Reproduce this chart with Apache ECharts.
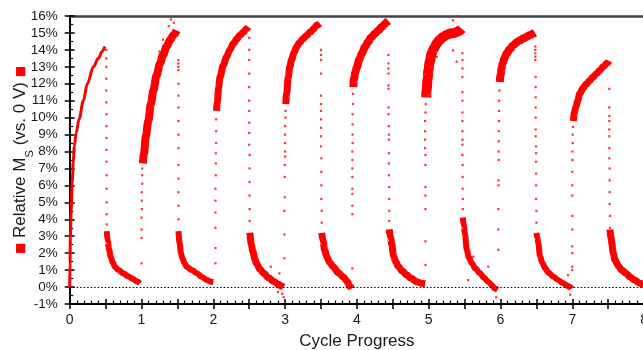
<!DOCTYPE html>
<html><head><meta charset="utf-8">
<script src="https://cdn.jsdelivr.net/npm/echarts@6/dist/echarts.min.js"></script>
<style>html,body{margin:0;padding:0;background:#fff}#c{width:643px;height:350px}</style>
</head><body><div id="c"></div>
<script>
// ---- data (x = cycle progress, y = relative Ms in %) ----
const xTicks = [0,1,2,3,4,5,6,7,8];
const yTicks = [-1,0,1,2,3,4,5,6,7,8,9,10,11,12,13,14,15,16];

// dense bands (rising / decaying parts of each cycle)
const rise0 = [[0,0],[0.004,1.5],[0.01,3],[0.02,4.5],[0.035,6.2],[0.05,7.4],[0.065,8.3],[0.09,9.1],[0.13,9.9],[0.19,11],[0.245,12],[0.33,13],[0.40,13.5],[0.45,13.9],[0.49,14.2]];
const decay0 = [[0.515,3.3],[0.53,2.7],[0.55,2.2],[0.57,1.8],[0.6,1.45],[0.63,1.2],[0.68,1.0],[0.75,0.8],[0.82,0.62],[0.88,0.48],[0.94,0.33],[0.98,0.22]];
const rise1 = [[1.02,7.3],[1.036,7.9],[1.06,8.9],[1.095,9.8],[1.13,10.8],[1.165,11.6],[1.21,12.5],[1.258,13.2],[1.30,13.7],[1.35,14.2],[1.40,14.6],[1.443,14.86],[1.49,15.15]];
const decay1 = [[1.515,3.3],[1.53,2.6],[1.55,2.0],[1.57,1.7],[1.60,1.4],[1.63,1.2],[1.70,1.0],[1.77,0.82],[1.84,0.6],[1.91,0.42],[1.96,0.32],[2.0,0.3]];
const rise2 = [[2.045,10.4],[2.056,10.9],[2.075,11.8],[2.093,12.4],[2.14,13.1],[2.187,13.6],[2.23,14.0],[2.28,14.37],[2.33,14.65],[2.37,14.86],[2.42,15.05],[2.465,15.25],[2.49,15.35]];
const decay2 = [[2.51,3.2],[2.53,2.5],[2.55,2.1],[2.58,1.65],[2.6,1.4],[2.65,1.05],[2.70,0.82],[2.77,0.55],[2.84,0.33],[2.9,0.18],[2.95,0.05],[2.98,0.0]];
const rise3 = [[3.01,10.8],[3.02,11.4],[3.045,12.4],[3.065,13.0],[3.09,13.4],[3.125,13.85],[3.16,14.17],[3.2,14.42],[3.25,14.66],[3.30,14.85],[3.35,15.05],[3.40,15.25],[3.44,15.45],[3.485,15.55]];
const decay3 = [[3.51,3.2],[3.53,2.7],[3.55,2.2],[3.58,1.8],[3.62,1.45],[3.67,1.2],[3.74,0.85],[3.81,0.6],[3.87,0.3],[3.90,0.05],[3.925,-0.1]];
const rise4 = [[3.95,11.8],[3.96,12.3],[3.98,12.7],[4.0,13.0],[4.035,13.45],[4.07,13.8],[4.115,14.2],[4.16,14.5],[4.2,14.75],[4.25,14.95],[4.3,15.15],[4.345,15.35],[4.39,15.52],[4.415,15.64],[4.44,15.7]];
const decay4 = [[4.45,3.4],[4.47,2.9],[4.485,2.55],[4.51,1.85],[4.54,1.5],[4.58,1.2],[4.63,0.95],[4.69,0.72],[4.76,0.5],[4.83,0.32],[4.9,0.22],[4.95,0.2]];
const rise5 = [[4.965,11.2],[4.97,11.6],[4.985,12.3],[4.995,12.8],[5.015,13.3],[5.04,13.78],[5.075,14.1],[5.11,14.37],[5.155,14.6],[5.2,14.76],[5.25,14.88],[5.3,14.96],[5.35,15.0],[5.39,15.05],[5.43,15.15],[5.46,15.25]];
const decay5 = [[5.475,4.1],[5.49,3.6],[5.505,3.15],[5.53,2.2],[5.56,1.75],[5.6,1.4],[5.65,1.1],[5.715,0.82],[5.77,0.55],[5.83,0.32],[5.88,0.1],[5.92,-0.08],[5.96,-0.15]];
const rise6 = [[5.99,12.1],[6.0,12.5],[6.015,12.9],[6.03,13.2],[6.055,13.5],[6.085,13.78],[6.13,14.05],[6.18,14.27],[6.225,14.45],[6.27,14.56],[6.32,14.68],[6.365,14.76],[6.41,14.88],[6.457,14.96],[6.48,15.0]];
const decay6 = [[6.5,3.2],[6.515,2.9],[6.525,2.6],[6.55,1.85],[6.58,1.45],[6.62,1.12],[6.67,0.85],[6.735,0.62],[6.8,0.42],[6.875,0.22],[6.93,0.08],[6.97,0.0],[6.99,-0.1]];
const rise7 = [[7.015,9.8],[7.03,10.3],[7.05,10.63],[7.075,11.0],[7.105,11.42],[7.15,11.75],[7.2,12.0],[7.245,12.2],[7.29,12.4],[7.34,12.6],[7.385,12.8],[7.43,13.0],[7.48,13.2],[7.51,13.35]];
const decay7 = [[7.525,3.4],[7.54,2.9],[7.55,2.58],[7.57,2.0],[7.595,1.6],[7.64,1.25],[7.69,1.0],[7.75,0.8],[7.80,0.61],[7.87,0.4],[7.94,0.22],[8.0,0.12]];

// sparse points (fast switching transitions and outliers)
const drop0 = [[0.51,14.0],[0.51,13.5],[0.51,13.0],[0.51,12.3],[0.51,11.6],[0.51,10.9],[0.512,10.2],[0.512,9.5],[0.512,8.8],[0.512,8.1],[0.512,7.4],[0.515,6.6],[0.515,5.8],[0.515,5.0],[0.515,4.3],[0.515,3.7]];
const jump1 = [[1.0,1.4],[1.0,2.9],[1.0,3.4],[1.0,4.1],[1.005,4.6],[1.005,5.1],[1.005,5.6],[1.01,6.1],[1.01,6.6],[1.01,7.0],[1.41,15.8],[1.38,15.4],[1.45,15.6],[1.30,14.6],[1.2,11.6],[1.25,13.9]];
const drop1 = [[1.513,13.4],[1.513,13.2],[1.513,13.0],[1.515,12.8],[1.515,12.0],[1.515,11.3],[1.515,10.6],[1.515,9.8],[1.515,9.0],[1.515,8.2],[1.515,7.2],[1.515,6.4],[1.515,5.6],[1.515,4.8],[1.515,4.0]];
const jump2 = [[2.03,1.4],[2.03,2.3],[2.03,3.5],[2.03,4.4],[2.03,5.1],[2.03,5.8],[2.035,6.6],[2.035,7.3],[2.035,7.9],[2.04,8.5],[2.04,9.2],[2.04,9.9]];
const drop2 = [[2.5,14.7],[2.5,14.0],[2.5,13.4],[2.5,12.6],[2.5,11.8],[2.5,11.0],[2.5,10.4],[2.5,9.7],[2.5,9.1],[2.5,8.4],[2.505,7.8],[2.505,7.0],[2.505,6.2],[2.505,5.4],[2.505,4.6],[2.505,3.9],[2.96,-0.4],[2.98,-0.6],[2.90,-0.3],[2.92,0.8],[2.80,1.2]];
const jump3 = [[2.99,1.7],[2.99,3.1],[2.99,4.5],[2.995,5.3],[2.995,6.5],[2.995,7.2],[3.0,7.7],[3.0,8.0],[3.0,8.5],[3.0,9.0],[3.0,9.5],[3.005,10.0],[3.005,10.4]];
const drop3 = [[3.5,14.0],[3.5,13.7],[3.5,13.4],[3.5,12.6],[3.5,11.3],[3.5,10.8],[3.5,10.4],[3.5,9.9],[3.5,9.4],[3.5,8.9],[3.5,8.3],[3.505,7.6],[3.505,6.8],[3.505,6.0],[3.505,5.2],[3.51,4.5],[3.51,3.8]];
const jump4 = [[3.937,1.1],[3.937,4.3],[3.937,4.8],[3.937,5.5],[3.937,5.8],[3.937,6.5],[3.937,7.0],[3.937,7.5],[3.937,8.0],[3.94,8.5],[3.94,9.0],[3.94,9.6],[3.94,10.2],[3.945,10.8],[3.945,11.4]];
const drop4 = [[4.44,13.7],[4.44,13.2],[4.44,12.9],[4.44,12.6],[4.44,11.9],[4.44,11.7],[4.44,10.6],[4.44,10.2],[4.445,9.5],[4.445,9.0],[4.445,8.7],[4.445,7.9],[4.445,7.3],[4.445,6.6],[4.45,5.9],[4.45,5.2],[4.45,4.5],[4.45,3.9]];
const jump5 = [[4.955,1.3],[4.955,2.7],[4.955,4.6],[4.955,5.4],[4.955,5.9],[4.955,7.2],[4.955,7.8],[4.95,8.2],[4.95,8.7],[4.95,9.2],[4.95,9.8],[4.955,10.3],[4.96,10.8],[5.34,15.74],[5.39,15.98],[5.03,12.2],[5.11,13.58],[5.34,13.97],[5.39,13.3]];
const drop5 = [[5.47,13.8],[5.47,13.4],[5.47,12.9],[5.47,12.4],[5.47,11.5],[5.47,11.0],[5.47,10.3],[5.47,9.8],[5.47,9.2],[5.47,8.7],[5.47,8.4],[5.47,7.8],[5.472,7.2],[5.472,6.5],[5.472,5.8],[5.475,5.2],[5.475,4.6],[5.62,1.79],[5.83,1.2],[5.55,0.41],[5.94,-0.6]];
const jump6 = [[5.97,2.2],[5.97,3.4],[5.97,4.6],[5.972,6.0],[5.972,6.3],[5.975,7.5],[5.975,8.0],[5.975,8.6],[5.975,9.2],[5.977,9.8],[5.98,10.4],[5.98,11.0],[5.985,11.6]];
const drop6 = [[6.485,14.2],[6.485,14.0],[6.485,13.8],[6.485,13.6],[6.485,13.4],[6.49,12.4],[6.49,11.8],[6.49,11.2],[6.49,10.6],[6.49,10.0],[6.49,9.3],[6.49,8.9],[6.495,8.3],[6.495,7.9],[6.495,7.4],[6.495,6.7],[6.495,6.0],[6.495,5.2],[6.5,4.5],[6.5,3.8],[6.97,-0.45],[6.94,0.7]];
const jump7 = [[7.0,1.0],[7.0,1.2],[7.0,2.0],[7.0,2.4],[7.0,3.4],[7.0,4.2],[7.0,5.4],[7.0,6.0],[7.0,6.8],[7.002,7.5],[7.002,8.0],[7.005,8.5],[7.005,9.0],[7.01,9.45]];
const drop7 = [[7.515,11.7],[7.515,10.6],[7.515,10.1],[7.515,9.8],[7.515,9.3],[7.515,8.9],[7.515,8.2],[7.515,7.6],[7.52,7.0],[7.52,6.3],[7.52,5.6],[7.52,4.9],[7.525,4.2],[7.525,3.5]];

// ---- styling ----
const RED = '#ff0000';
const FONT = 'Liberation Sans, Arial, sans-serif';
const bands = [
  [rise0,3],[decay0,6],[rise1,8],[decay1,6],[rise2,7],[decay2,7],[rise3,7],[decay3,7],
  [rise4,8],[decay4,7],[rise5,10],[decay5,6],[rise6,8],[decay6,6],[rise7,7],[decay7,7]
];
const sparse = [drop0,jump1,drop1,jump2,drop2,jump3,drop3,jump4,drop4,jump5,drop5,jump6,drop6,jump7,drop7];

const series = [];
series.push({
  type:'line', data:[], z:1, silent:true,
  markLine:{silent:true, symbol:['none','none'], label:{show:false},
    lineStyle:{color:'#000', type:[1.5,2], width:1.2}, data:[{yAxis:0}]}
});
bands.forEach(([d,w]) => series.push({
  type:'line', data:d, z:3, silent:true, showSymbol:false, smooth:0.35, smoothMonotone:'x',
  lineStyle:{color:RED, width:w, cap:'butt', join:'round'}
}));
sparse.forEach(d => series.push({
  type:'scatter', data:d, z:4, silent:true, symbol:'rect', symbolSize:2.2,
  itemStyle:{color:RED}
}));

const chart = echarts.init(document.getElementById('c'), null, {renderer:'canvas'});
chart.setOption({
  animation:false,
  backgroundColor:'#fff',
  grid:{left:69.7, right:-1.1, top:16, bottom:46, containLabel:false, outerBoundsMode:'none'},
  xAxis:[
    {type:'value', position:'bottom', min:0, max:8, interval:0.5,
     axisLine:{onZero:false, lineStyle:{color:'#000', width:2}},
     axisTick:{length:5, lineStyle:{color:'#000', width:1.5}},
     axisLabel:{margin:9, fontSize:14, color:'#1a1a1a', fontFamily:FONT, showMaxLabel:true, hideOverlap:false,
       formatter:v => xTicks.includes(v) ? String(v) : ''},
     splitLine:{show:false},
     name:'Cycle Progress', nameLocation:'middle', nameGap:29,
     nameTextStyle:{fontSize:17, color:'#1a1a1a', fontFamily:FONT}},
    {type:'value', position:'bottom', min:0, max:8, interval:0.5, offset:0,
     axisLine:{show:false, onZero:false}, axisLabel:{show:false}, splitLine:{show:false},
     axisTick:{show:true, inside:true, length:5, lineStyle:{color:'#000', width:1.5}},
     minorTick:{show:true, splitNumber:5, length:3.5, lineStyle:{color:'#000', width:1.2}}},
    {type:'value', position:'top', min:0, max:8,
     axisLine:{onZero:false, lineStyle:{color:'#444', width:2.5}},
     axisTick:{show:false}, axisLabel:{show:false}, splitLine:{show:false}}
  ],
  yAxis:[
    {type:'value', position:'left', min:-1, max:16, interval:1,
     axisLine:{show:true, onZero:false, lineStyle:{color:'#000', width:2}},
     axisTick:{show:true, length:5, lineStyle:{color:'#000', width:1.5}},
     axisLabel:{margin:12, fontSize:13.5, color:'#1a1a1a', fontFamily:FONT,
       formatter:v => yTicks.includes(v) ? v + '%' : ''},
     splitLine:{show:false},
     name:'{sq|■} {t|Relative M}{sub|S}{t| (vs. 0 V)} {sq|■}',
     nameLocation:'middle', nameRotate:90, nameGap:34, nameMoveOverlap:false,
     nameTextStyle:{fontSize:17, color:'#1a1a1a', fontFamily:FONT,
       rich:{
         t:{fontSize:17, lineHeight:30, verticalAlign:'middle', color:'#1a1a1a', fontFamily:FONT},
         sub:{fontSize:11.5, lineHeight:12, verticalAlign:'bottom', color:'#1a1a1a', fontFamily:FONT},
         sq:{fontSize:12, lineHeight:30, verticalAlign:'middle', color:RED, fontFamily:'DejaVu Sans'}
       }}},
    {type:'value', position:'left', min:-1, max:16, interval:1, offset:0,
     axisLine:{show:false, onZero:false}, axisLabel:{show:false}, splitLine:{show:false},
     axisTick:{show:true, inside:true, length:5, lineStyle:{color:'#000', width:1.5}},
     minorTick:{show:true, splitNumber:2, length:3.5, lineStyle:{color:'#000', width:1.2}}}
  ],
  series: series.map(s => Object.assign({xAxisIndex:0, yAxisIndex:0}, s))
});
</script></body></html>
